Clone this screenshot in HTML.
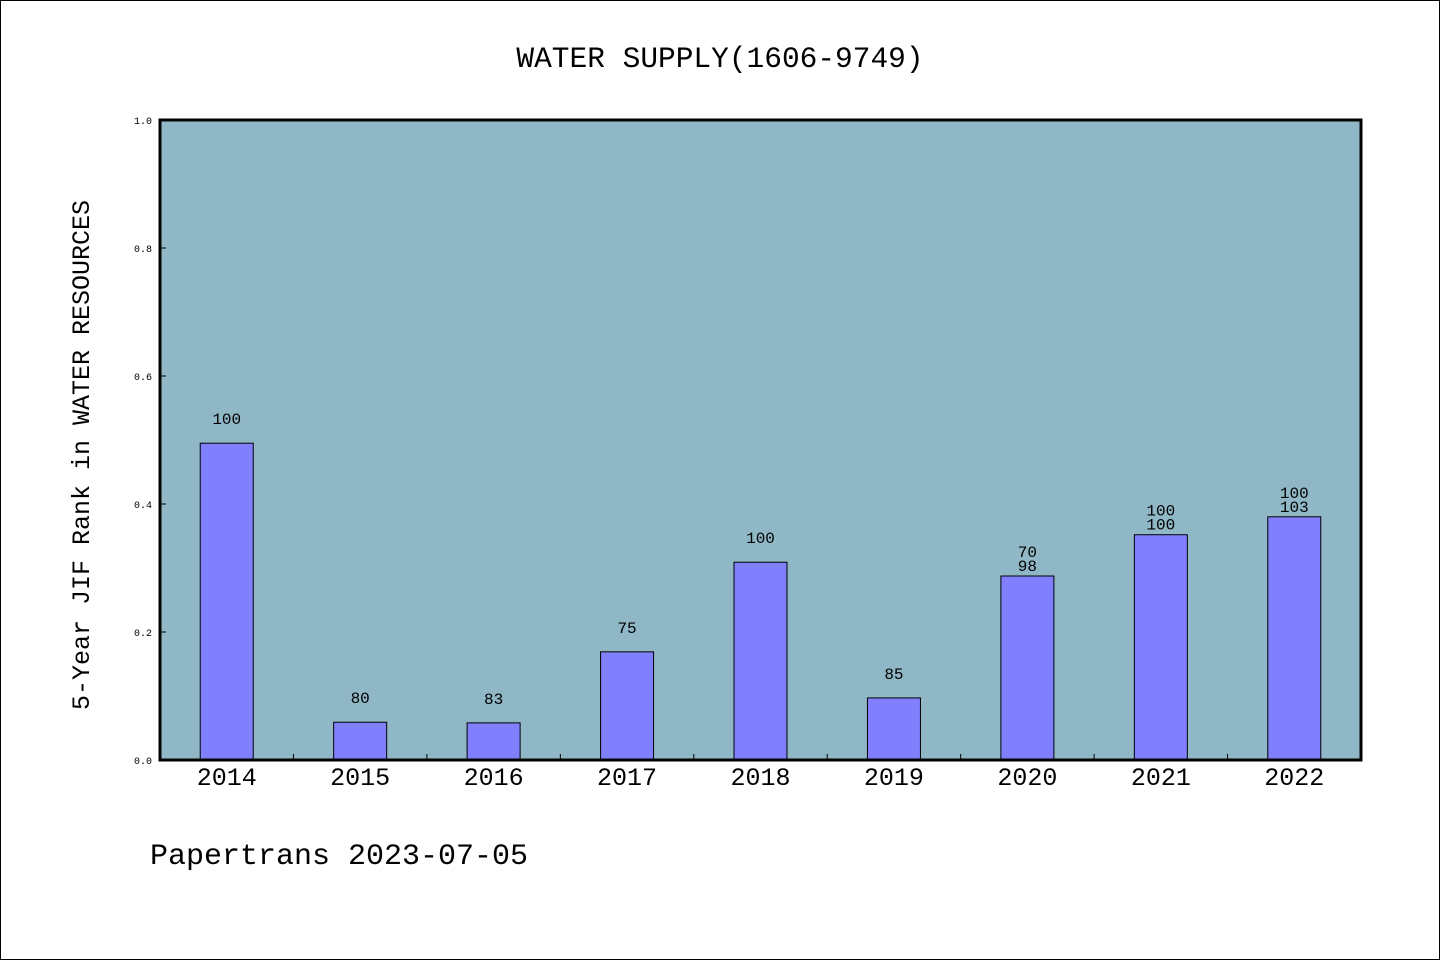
<!DOCTYPE html>
<html><head><meta charset="utf-8"><style>
body{margin:0;background:#fff}
svg{display:block;font-family:"Liberation Mono",monospace}
</style></head><body>
<svg id="chart" width="1440" height="960">
<rect x="0.5" y="0.5" width="1439" height="959" fill="#fff" stroke="#000"/>
<text x="720" y="67" text-anchor="middle" font-size="29.5">WATER SUPPLY(1606-9749)</text>
<rect x="160" y="120" width="1201" height="640" fill="#8fb7c6"/>
<g id="marks"></g>
<rect x="160" y="120" width="1201" height="640" fill="none" stroke="#000" stroke-width="3"/>
<text transform="translate(89,455) rotate(-90)" text-anchor="middle" font-size="25">5-Year JIF Rank in WATER RESOURCES</text>
<text x="150" y="864" font-size="30">Papertrans 2023-07-05</text>
</svg>
<script>
const categories=["2014","2015","2016","2017","2018","2019","2020","2021","2022"];
const values=[0.495,0.059,0.058,0.169,0.309,0.097,0.2875,0.352,0.38];
const labelsTop=["100","80","83","75","100","85","70","100","100"];
const labelsBottom=["","","","","","","98","100","103"];
const yTicks=[0,0.2,0.4,0.6,0.8,1.0];
const L=160,R=1361,T=120,B=760;
const ns="http://www.w3.org/2000/svg";
const g=document.getElementById('marks');
const band=(R-L)/categories.length;
const y=v=>B-(B-T)*v;
const xc=i=>L+band*(i+0.5);
function mk(t,a){const e=document.createElementNS(ns,t);for(const k in a)e.setAttribute(k,a[k]);g.appendChild(e);return e;}
yTicks.forEach(v=>{
 const l=mk('line',{x1:L,x2:L+6,y1:y(v),y2:y(v),stroke:'#000'});
 
 
 const t=mk('text',{x:152,y:y(v)+4,'text-anchor':'end','font-size':10});
 t.textContent=v.toFixed(1);
 
 
});
categories.forEach((c,i)=>{
 if(i>0){const tk=mk('line',{x1:L+band*i,x2:L+band*i,y1:B,y2:B-6,stroke:'#000'});
 
 }
 const bw=53;
 const r=mk('rect',{x:xc(i)-bw/2,y:y(values[i]),width:bw,height:B-y(values[i]),fill:'#8080ff',stroke:'#000','stroke-width':1});
 
 
 const t=mk('text',{x:xc(i),y:B+25,'text-anchor':'middle','font-size':25});
 t.textContent=c;
 
 
 const top=y(values[i]);
 if(labelsBottom[i]){
  const a=mk('text',{x:xc(i),y:top-19,'text-anchor':'middle','font-size':16});a.textContent=labelsTop[i];
  
  
  const b=mk('text',{x:xc(i),y:top-5,'text-anchor':'middle','font-size':16});b.textContent=labelsBottom[i];
  
  
 }else{
  const a=mk('text',{x:xc(i),y:top-19,'text-anchor':'middle','font-size':16});a.textContent=labelsTop[i];
  
  
 }
});
</script>
</body></html>
